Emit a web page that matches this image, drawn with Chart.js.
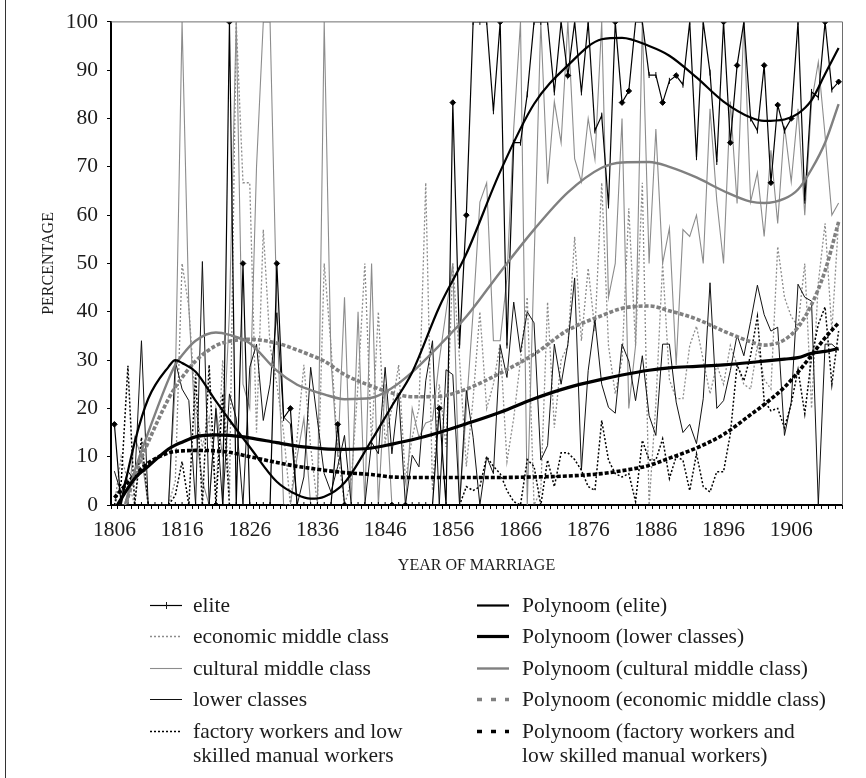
<!DOCTYPE html>
<html>
<head>
<meta charset="utf-8">
<title>Percentage by year of marriage</title>
<style>
  html, body { margin: 0; padding: 0; background: #fff; }
  #wrap { position: relative; width: 866px; height: 778px; overflow: hidden; }
  #rand { position: absolute; left: 5px; top: 0; width: 1px; height: 778px; background: #333; }
</style>
<script src="https://cdn.jsdelivr.net/npm/chart.js@4"></script>
</head>
<body>
<div id="wrap">
  <canvas id="grafico" width="866" height="778"></canvas>
  <div id="rand"></div>
</div>
<script>
// years on the x axis, 1806 - 1913
const categories = ["1806","1807","1808","1809","1810","1811","1812","1813","1814","1815","1816","1817","1818","1819","1820","1821","1822","1823","1824","1825","1826","1827","1828","1829","1830","1831","1832","1833","1834","1835","1836","1837","1838","1839","1840","1841","1842","1843","1844","1845","1846","1847","1848","1849","1850","1851","1852","1853","1854","1855","1856","1857","1858","1859","1860","1861","1862","1863","1864","1865","1866","1867","1868","1869","1870","1871","1872","1873","1874","1875","1876","1877","1878","1879","1880","1881","1882","1883","1884","1885","1886","1887","1888","1889","1890","1891","1892","1893","1894","1895","1896","1897","1898","1899","1900","1901","1902","1903","1904","1905","1906","1907","1908","1909","1910","1911","1912","1913"];
const tickLabels = ["1806","1816","1826","1836","1846","1856","1866","1876","1886","1896","1906"];

// yearly percentages
const elite = [16.7,0,0,0,0,0,0,0,0,0,0,0,0,0,0,0,0,100,0,50,0,0,0,0,50,18,20,0,0,0,0,0,0,16.7,0,0,0,0,0,0,0,0,0,0,0,0,0,0,20,0,
  83.3,33,60,100,100,100,81.5,100,33,75,75,85,100,100,100,85.4,100,88.9,100,85.4,100,77.5,80.6,62,100,83.3,85.7,100,100,89,89,83.3,87.8,88.9,87,100,72,100,89.5,71,100,75,91,100,80,77.5,91,66.7,82.8,77.5,80,100,63,85.5,84.4,100,86,87.6];
const economicMiddle = [0,10,5,0,12,0,0,0,0,5,50,41,20,12,18,2,30,2,100,66.7,66.7,15,57,33,25,15,0,14,29,12,0,50,33,11,0,5,25,50,13,40,13,20,29,5,14,20,66.7,3,25,12,
  50,30,8,22,40,20,25,33.5,9,18,30,43,0,3,42,16,30,33,55.5,34,49,36,66.7,33,23,30,61.4,33,66.7,0,21,50,26,22,22,33,37,30,23,29,25,33,29,25,24,33,26,24,53.5,43,39,37,50,20,46,58.3,36,59];
const culturalMiddle = [0,0,0,14,10,0,0,0,0,25,100,41,15,5,0,20,10,40,100,25,20,70,100,100,40,0,0,10,18,0,0,100,30,10,43,0,40,0,50,0,25,0,0,0,20,14,17,17.5,30,40,
  50,0,20,40,62.7,66.7,34,34,47,78,100,0,50,100,66.5,83.5,75,100,71.7,66.9,80,71.5,100,43,50,80,20,33,100,50,77.8,50,57.3,29,57,55.6,60,50,82,63,50,83.5,62.4,100,62.8,68.8,55.6,73.4,58.3,78.5,66.9,82,60,83.3,91.7,76.5,60,62.5];
const lowerClasses = [7,2.4,7,5,34,0,0,0,0,29.8,24,21.6,0,50.4,0,20,0,23,18,0,28.5,33.3,17.5,25,39.8,18.2,16.8,0,5.8,28.5,17.5,6.5,2.7,8,14.4,0,0,0,13,10.6,28.5,10.6,23,0,10.3,7.9,25.7,34,0,28,
  27,0,23.7,14,0,10,6.5,33,26.4,42,31.6,40,37.7,9.3,12.3,33.3,25,33.3,47,7.2,27.8,38.4,25,20.2,19,33.3,29.8,21.6,30.9,18.5,14.4,33.3,33.3,21.3,15,16.7,12.7,22,46,20,21.6,27.8,35.2,30.9,38,45.5,39.4,36,36.8,14.4,21.3,45.7,43,42.2,0,33.3,33.3,32];
const factoryWorkers = [0,4.5,28.8,0,14,0,0,0,0,2,9,0,27,0,29,0,23,0,0,0,0,0,0,0,0,0,0,0,0,0,0,0,0,0,0,0,0,0,0,0,0,0,0,0,0,0,0,0,0,0,
  0,0,3.8,3,3.8,10,8,6.5,3,0.7,0,9.4,8,0,9.3,3.8,10.8,10.8,9.4,7.2,3.8,3,17.5,9.3,6.5,5.8,6.5,0.7,13.4,9.3,9.3,13.7,5.5,10,9.3,3,10.6,3.8,2.7,6.9,6.9,14.7,29,25.7,31,39,21.6,19.5,20,16,21,28,18.9,30.5,37.4,41,25,36];

// trend curves, read at these years only
const trendYears = ["1806","1809","1811","1814","1815","1816","1818","1821","1823","1826","1830","1833","1835","1837","1840","1844","1847","1850","1854","1858","1863","1868","1873","1878","1881","1885","1888","1892","1896","1900","1902","1905","1907","1909","1911","1913"];
const trendElite = [-6,13,22,28.6,30,29.4,27.6,21.5,17.6,12,4.8,2.1,1.3,1.7,4.6,13.4,20.5,27.5,41,52,69,83,91,96.4,96.7,95,93,88.5,83.5,80.2,79.5,79.8,81,83.8,89.2,94.6];
const trendLower = [-1,5.5,8,11.6,12.4,13,14.1,14.5,14.4,13.9,12.9,12.2,11.9,11.6,11.5,11.8,12.6,13.5,15,16.8,19.2,22,24.3,26,26.9,27.9,28.4,28.7,29,29.5,29.8,30.2,30.5,31.4,31.8,32.4];
const trendCultural = [-8,7,15,26,29,31,34,35.7,35.2,33.5,27.8,24.9,23.8,22.9,21.9,22.2,24.2,27.5,33,39,48.2,57,64.7,69.8,70.9,71,70,67.8,65,62.8,62.5,63.4,65.3,69.5,75,83];
const trendEconomic = [-8,6,13,22,24.4,26.4,29.8,33,33.9,34.3,33.5,32.1,31,29.8,27,24.6,23.2,22.4,22.5,24,27.3,31.2,36.2,39.2,40.7,41.2,40.2,38.5,36,33.8,33.1,34.2,36.8,41.5,48.5,58.6];
const trendFactory = [1.5,6.2,8.7,10.8,11.1,11.2,11.3,11.2,10.9,10,8.8,8,7.6,7.2,6.7,6.3,5.8,5.7,5.7,5.7,5.7,5.8,6,6.5,7.1,8.2,9.7,11.8,14.6,18.7,20.8,24.4,27.5,31,34.6,37.7];

// elite points with a diamond, the others only have a small tick
const eliteDiamonds = [0,15,17,19,24,26,33,34,41,43,48,50,52,57,67,74,75,76,81,83,90,91,92,96,97,98,100,105,107];

const legendLeft = [["elite"],["economic middle class"],["cultural middle class"],["lower classes"],["factory workers and low","skilled manual workers"]];
const legendRight = [["Polynoom (elite)"],["Polynoom (lower classes)"],["Polynoom (cultural middle class)"],["Polynoom (economic middle class)"],["Polynoom (factory workers and","low skilled manual workers)"]];

const grijs = '#8c8c8c';
const tekstKleur = '#1c1c1c';
const serif = "'Liberation Serif', serif";

function trend(values) {
  return values.map((v, i) => ({ x: trendYears[i], y: v }));
}

const datasets = [
  { label: 'Polynoom (elite)', data: trend(trendElite), borderColor: '#000', borderWidth: 2.2, pointRadius: 0, cubicInterpolationMode: 'monotone', order: 1 },
  { label: 'Polynoom (lower classes)', data: trend(trendLower), borderColor: '#000', borderWidth: 3.2, pointRadius: 0, cubicInterpolationMode: 'monotone', order: 2 },
  { label: 'Polynoom (cultural middle class)', data: trend(trendCultural), borderColor: '#808080', borderWidth: 2.4, pointRadius: 0, cubicInterpolationMode: 'monotone', order: 3 },
  { label: 'Polynoom (economic middle class)', data: trend(trendEconomic), borderColor: '#808080', borderWidth: 3.6, borderDash: [4, 2], pointRadius: 0, cubicInterpolationMode: 'monotone', order: 4 },
  { label: 'Polynoom (factory workers and low skilled manual workers)', data: trend(trendFactory), borderColor: '#000', borderWidth: 3.6, borderDash: [4, 2], pointRadius: 0, cubicInterpolationMode: 'monotone', order: 5 },
  { label: 'elite', data: elite, borderColor: '#000', borderWidth: 1.2, order: 6,
    pointBackgroundColor: '#000', pointBorderColor: '#000', pointBorderWidth: 1,
    pointStyle: c => eliteDiamonds.includes(c.dataIndex) ? 'rectRot' : 'line',
    pointRotation: c => eliteDiamonds.includes(c.dataIndex) ? 0 : 90,
    pointRadius: c => eliteDiamonds.includes(c.dataIndex) ? 2.8 : 3 },
  { label: 'lower classes', data: lowerClasses, borderColor: '#111', borderWidth: 1, pointRadius: 0, order: 7 },
  { label: 'factory workers and low skilled manual workers', data: factoryWorkers, borderColor: '#000', borderWidth: 1.5, borderDash: [2, 2], pointRadius: 0, order: 8 },
  { label: 'cultural middle class', data: culturalMiddle, borderColor: grijs, borderWidth: 1.1, pointRadius: 0, order: 9 },
  { label: 'economic middle class', data: economicMiddle, borderColor: grijs, borderWidth: 1.3, borderDash: [2, 2], pointRadius: 0, order: 10 }
];

// top and right edge of the plot
const kader = {
  id: 'kader',
  afterDatasetsDraw(chart) {
    const { ctx, chartArea: a } = chart;
    ctx.save();
    ctx.strokeStyle = '#6e6e6e';
    ctx.lineWidth = 1;
    ctx.beginPath();
    ctx.moveTo(a.left, a.top);
    ctx.lineTo(a.right + 0.5, a.top);
    ctx.lineTo(a.right + 0.5, a.bottom);
    ctx.stroke();
    ctx.restore();
  }
};

// legend has two columns and two-line rows, so it is drawn here
const legenda = {
  id: 'legenda',
  afterDraw(chart) {
    const ctx = chart.ctx;
    const rijen = [605, 636, 668, 699, 731];
    const sample = (x, y, ds) => {
      ctx.save();
      ctx.strokeStyle = ds.borderColor;
      ctx.lineWidth = ds.borderWidth;
      if (ds.borderDash) ctx.setLineDash(ds.borderWidth > 3 ? [5, 9] : ds.borderDash);
      ctx.beginPath();
      ctx.moveTo(x, y + 0.5);
      ctx.lineTo(x + 32, y + 0.5);
      ctx.stroke();
      ctx.restore();
    };
    ctx.save();
    ctx.font = "21.5px " + serif;
    ctx.fillStyle = tekstKleur;
    ctx.textBaseline = 'middle';
    legendLeft.forEach((regels, i) => {
      sample(150, rijen[i], datasets.find(d => d.label.startsWith(regels[0].split(' and')[0])));
      regels.forEach((t, j) => ctx.fillText(t, 193, rijen[i] + 1 + j * 24));
    });
    legendRight.forEach((regels, i) => {
      sample(477, rijen[i], datasets[i]);
      regels.forEach((t, j) => ctx.fillText(t, 522, rijen[i] + 1 + j * 24));
    });
    // the small cross stroke on the elite sample
    ctx.fillRect(166, rijen[0] - 3, 1, 7);
    ctx.restore();
  }
};

new Chart(document.getElementById('grafico').getContext('2d'), {
  type: 'line',
  data: { labels: categories, datasets: datasets },
  plugins: [kader, legenda],
  options: {
    responsive: false,
    animation: false,
    layout: { padding: { top: 19, right: 24, bottom: 203, left: 39 } },
    plugins: { legend: { display: false }, tooltip: { enabled: false } },
    scales: {
      x: {
        type: 'category',
        offset: true,
        afterFit: s => { s.height = 70; },
        grid: { offset: true, drawOnChartArea: false, tickLength: 4, color: '#000', tickWidth: 1 },
        border: { color: '#000', width: 2 },
        ticks: {
          autoSkip: false, maxRotation: 0, minRotation: 0, padding: 8,
          color: tekstKleur, font: { family: serif, size: 21.5 },
          callback(value, index) {
            const jaar = this.getLabelForValue(value);
            return tickLabels.includes(jaar) ? jaar : '';
          }
        },
        title: { display: true, text: 'YEAR OF MARRIAGE', color: tekstKleur, font: { family: serif, size: 16 }, padding: { top: 0, bottom: 0 } }
      },
      y: {
        min: 0, max: 100,
        afterFit: s => { s.width = 72; },
        grid: { drawOnChartArea: false, tickLength: 4, color: '#000', tickWidth: 1 },
        border: { color: '#000', width: 2 },
        ticks: { stepSize: 10, padding: 9, color: tekstKleur, font: { family: serif, size: 21.5 } },
        title: { display: true, text: 'PERCENTAGE', color: tekstKleur, font: { family: serif, size: 16 }, padding: { top: 0, bottom: 0 } }
      }
    }
  }
});
</script>
</body>
</html>
